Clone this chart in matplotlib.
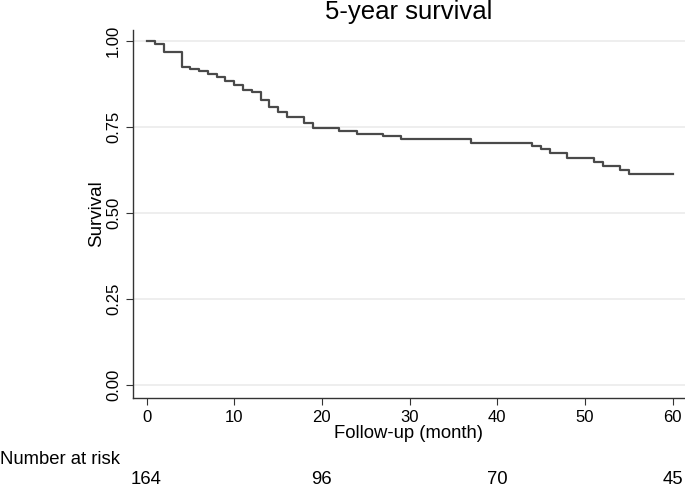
import matplotlib
matplotlib.use("Agg")
import matplotlib.pyplot as plt

# Kaplan-Meier step points
times = [0, 1, 2, 4, 5, 6, 7, 8, 9, 10, 11, 12, 13, 14, 15, 16, 18, 19,
         22, 24, 27, 29, 37, 44, 45, 46, 48, 51, 52, 54, 55, 60]
surv = [1.000, 0.990, 0.967, 0.925, 0.919, 0.913, 0.903, 0.895, 0.884, 0.872,
        0.857, 0.852, 0.828, 0.807, 0.793, 0.779, 0.762, 0.748,
        0.738, 0.731, 0.723, 0.714, 0.704, 0.696, 0.686, 0.673, 0.661,
        0.649, 0.638, 0.625, 0.613, 0.613]

risk_times = [0, 20, 40, 60]
at_risk = [164, 96, 70, 45]
yticks = [0.0, 0.25, 0.5, 0.75, 1.0]
xticks = [0, 10, 20, 30, 40, 50, 60]

plt.rcParams['font.family'] = ['Liberation Sans', 'DejaVu Sans']

fig = plt.figure(figsize=(6.85, 4.87), dpi=100)
# axes box in pixels: left 133, right 685, top 30, bottom 398
ax = fig.add_axes([133 / 685, 1 - 398 / 487, (685 - 133) / 685, (398 - 30) / 487])

ax.step(times, surv, where='post', color='#4a4a4a', lw=1.6)

ax.set_xlim(-1.54, 61.4)
ax.set_ylim(-0.038, 1.032)
ax.set_yticks(yticks)
ax.set_yticklabels(['%.2f' % v for v in yticks], rotation=90, va='center')
ax.set_xticks(xticks)
for y in yticks:
    ax.axhline(y, color='#ebebeb', lw=1.2, zorder=0)

ax.spines['top'].set_visible(False)
ax.spines['right'].set_visible(False)
for s in ['left', 'bottom']:
    ax.spines[s].set_color('#333333')
    ax.spines[s].set_linewidth(1.0)
ax.tick_params(axis='both', labelsize=12, length=5, color='#333333', direction='out')

ax.set_xlabel('Follow-up (month)', fontsize=13.3, labelpad=0)
ax.set_ylabel('Survival', fontsize=13.5, labelpad=1)
fig.text(409 / 685, 1.0, '5-year survival', fontsize=18.5,
         ha='center', va='top')

fig.text(0.0, 1 - 460 / 487, 'Number at risk', fontsize=13.3, ha='left', va='center')
for t, n in zip(risk_times, at_risk):
    ax.text(t, -(479 - 398) / 368, str(n), fontsize=13.3, ha='center', va='center',
            transform=ax.get_xaxis_transform())

fig.savefig('out.png', dpi=100)
